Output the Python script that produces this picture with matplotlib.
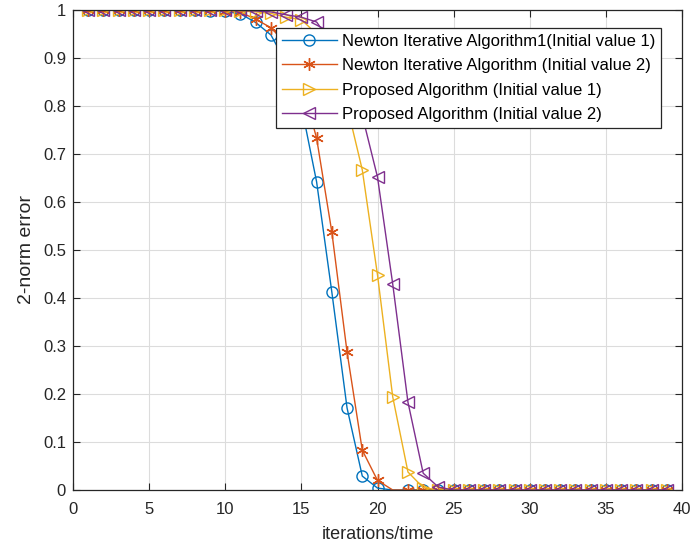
import matplotlib
matplotlib.use("Agg")
import matplotlib.pyplot as plt
import numpy as np

plt.rcParams['font.family'] = ['Liberation Sans', 'DejaVu Sans']

iterations = list(range(1, 40))

newton_1 = [1, 1, 1, 1, 1, 1, 0.999, 0.999, 0.998, 0.997, 0.992, 0.974, 0.948, 0.89, 0.80,
            0.642, 0.4125, 0.171, 0.029, 0.004, 0.0, 0.0, 0.0] + [0.0] * 16
newton_2 = [1, 1, 1, 1, 1, 1, 1, 0.999, 0.999, 0.998, 0.995, 0.981, 0.963, 0.93, 0.85,
            0.733, 0.5375, 0.2875, 0.083, 0.02, 0.0, 0.0, 0.0] + [0.0] * 16
proposed_1 = [1, 1, 1, 1, 1, 1, 1, 1, 1, 0.999, 0.998, 0.996, 0.993, 0.985, 0.98,
              0.95, 0.89, 0.80, 0.667, 0.448, 0.194, 0.0375, 0.005] + [0.0] * 16
proposed_2 = [1, 1, 1, 1, 1, 1, 1, 1, 1, 1, 0.999, 0.998, 0.996, 0.99, 0.985,
              0.975, 0.93, 0.87, 0.78, 0.652, 0.429, 0.183, 0.035, 0.006] + [0.0] * 15

labels = ["Newton Iterative Algorithm1(Initial value 1)",
          "Newton Iterative Algorithm (Initial value 2)",
          "Proposed Algorithm (Initial value 1)",
          "Proposed Algorithm (Initial value 2)"]

x_ticks = [0, 5, 10, 15, 20, 25, 30, 35, 40]
y_ticks = [0, 0.1, 0.2, 0.3, 0.4, 0.5, 0.6, 0.7, 0.8, 0.9, 1]
y_ticklabels = ['0', '0.1', '0.2', '0.3', '0.4', '0.5', '0.6', '0.7', '0.8', '0.9', '1']

colors = ['#0072BD', '#D95319', '#EDB120', '#7E2F8E']

fig = plt.figure(figsize=(6.91, 5.52), dpi=100)
ax = fig.add_axes([73/691, 62/552, 609/691, 480/552])

skip21 = [i for i, v in enumerate(iterations) if v != 21]
asterisk = (6, 2, 0)

ax.plot(iterations, newton_1, color=colors[0], lw=1, marker='o', ms=8,
        mfc='none', mew=1, markevery=skip21, label=labels[0])
ax.plot(iterations, newton_2, color=colors[1], lw=1, marker=asterisk, ms=9,
        mfc='none', mew=1, markevery=skip21, label=labels[1])
ax.plot(iterations, proposed_1, color=colors[2], lw=1, marker='>', ms=8,
        mfc='none', mew=1, label=labels[2])
ax.plot(iterations, proposed_2, color=colors[3], lw=1, marker='<', ms=8,
        mfc='none', mew=1, label=labels[3])

ax.set_xlim(0, 40)
ax.set_ylim(0, 1)
ax.set_xticks(x_ticks)
ax.set_yticks(y_ticks)
ax.set_yticklabels(y_ticklabels)
ax.grid(True, color='#dcdcdc', lw=0.8)
ax.set_axisbelow(True)
ax.tick_params(direction='in', top=True, right=True, labelsize=12, colors='#262626',
               length=5, labelcolor='#262626')
ax.tick_params(axis='x', pad=9)
ax.tick_params(axis='y', pad=5)
for s in ax.spines.values():
    s.set_color('#262626')
    s.set_linewidth(0.9)

ax.set_xlabel('iterations/time', fontsize=13, color='#262626', labelpad=6)
ax.set_ylabel('2-norm error', fontsize=14, color='#262626', labelpad=6)

leg = ax.legend(loc='upper left', bbox_to_anchor=(0.333, 0.9625), fontsize=12,
                frameon=True, fancybox=False, framealpha=1, edgecolor='#262626',
                handlelength=3.3, borderpad=0.35, labelspacing=0.56,
                handletextpad=0.3, borderaxespad=0)
leg.get_frame().set_linewidth(0.9)

fig.savefig('out.png', dpi=100)
